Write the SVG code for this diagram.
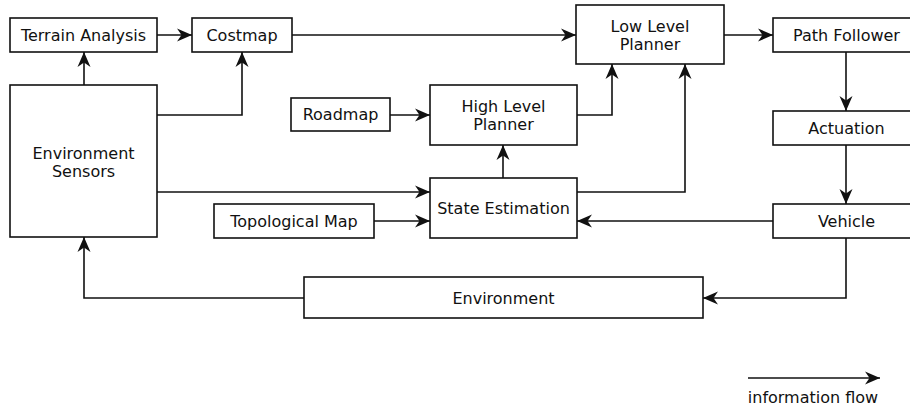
<svg xmlns="http://www.w3.org/2000/svg" width="910" height="409" viewBox="0 0 910 409">
<style>
.b{fill:#fff;stroke:#111;stroke-width:1.6}
.t{font-family:"DejaVu Sans",sans-serif;font-size:16px;fill:#111;text-anchor:middle}
.c{fill:none;stroke:#111;stroke-width:1.6}
</style>
<defs>
<marker id="a" markerUnits="userSpaceOnUse" markerWidth="18" markerHeight="16" viewBox="-16 -8 18 16" refX="0" refY="0" orient="auto">
<path d="M0,0 L-15,-6.5 L-10.5,0 L-15,6.5 Z" fill="#111"/>
</marker>
</defs>
<rect width="910" height="409" fill="#fff"/>
<g id="connectors">
<path class="c" d="M157,35 H192" marker-end="url(#a)"/>
<path class="c" d="M84,85 V52" marker-end="url(#a)"/>
<path class="c" d="M157,115 H242 V52" marker-end="url(#a)"/>
<path class="c" d="M292,35 H576" marker-end="url(#a)"/>
<path class="c" d="M390,115 H430" marker-end="url(#a)"/>
<path class="c" d="M577,115 H612 V64" marker-end="url(#a)"/>
<path class="c" d="M503,178 V145" marker-end="url(#a)"/>
<path class="c" d="M157,192 H430" marker-end="url(#a)"/>
<path class="c" d="M374,221 H430" marker-end="url(#a)"/>
<path class="c" d="M577,192 H685 V64" marker-end="url(#a)"/>
<path class="c" d="M724,35 H773" marker-end="url(#a)"/>
<path class="c" d="M846,52 V111" marker-end="url(#a)"/>
<path class="c" d="M846,145 V204" marker-end="url(#a)"/>
<path class="c" d="M773,221 H577" marker-end="url(#a)"/>
<path class="c" d="M846,238 V298 H703" marker-end="url(#a)"/>
<path class="c" d="M304,298 H84 V237" marker-end="url(#a)"/>
<path class="c" d="M748,378 H880" marker-end="url(#a)"/>
</g>
<g id="terrain-analysis"><rect class="b" x="10" y="18" width="147" height="34"/><text class="t" x="83.5" y="41">Terrain Analysis</text></g>
<g id="costmap"><rect class="b" x="192" y="18" width="100" height="34"/><text class="t" x="242" y="41">Costmap</text></g>
<g id="environment-sensors"><rect class="b" x="10" y="85" width="147" height="152"/><text class="t" x="83.5" y="158.5">Environment</text><text class="t" x="83.5" y="176.5">Sensors</text></g>
<g id="low-level-planner"><rect class="b" x="576" y="5" width="148" height="59"/><text class="t" x="650" y="31.5">Low Level</text><text class="t" x="650" y="49.5">Planner</text></g>
<g id="roadmap"><rect class="b" x="291" y="98" width="99" height="33"/><text class="t" x="340.5" y="120">Roadmap</text></g>
<g id="high-level-planner"><rect class="b" x="430" y="85" width="147" height="60"/><text class="t" x="503.5" y="111.5">High Level</text><text class="t" x="503.5" y="129.5">Planner</text></g>
<g id="state-estimation"><rect class="b" x="430" y="178" width="147" height="60"/><text class="t" x="503.5" y="213.5">State Estimation</text></g>
<g id="topological-map"><rect class="b" x="214" y="204" width="160" height="34"/><text class="t" x="294" y="226.5">Topological Map</text></g>
<g id="path-follower"><rect class="b" x="773" y="18" width="147" height="34"/><text class="t" x="846.5" y="41">Path Follower</text></g>
<g id="actuation"><rect class="b" x="773" y="111" width="147" height="34"/><text class="t" x="846.5" y="134">Actuation</text></g>
<g id="vehicle"><rect class="b" x="773" y="204" width="147" height="34"/><text class="t" x="846.5" y="226.5">Vehicle</text></g>
<g id="environment"><rect class="b" x="304" y="277" width="399" height="41"/><text class="t" x="503.5" y="303.5">Environment</text></g>
<g id="legend"><text class="t" x="813" y="403">information flow</text></g>
</svg>
